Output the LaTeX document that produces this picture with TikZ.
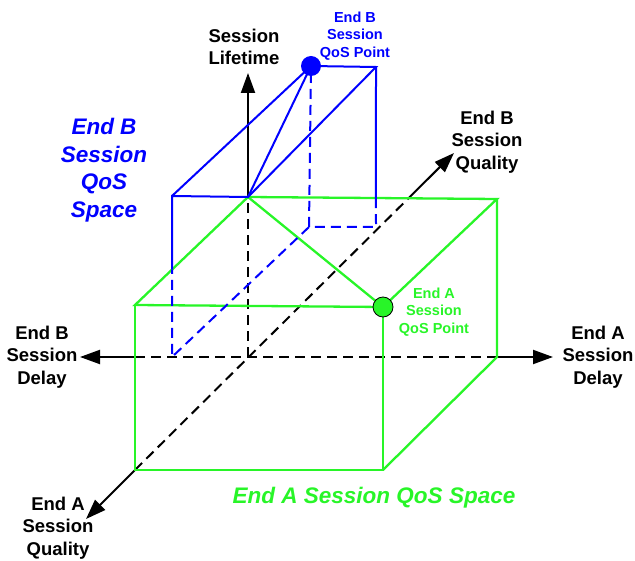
\documentclass[tikz,border=0pt]{standalone}
\usepackage{fontspec}
\setmainfont{Liberation Sans}
\usetikzlibrary{arrows.meta}
\definecolor{qosblue}{RGB}{0,0,255}
\definecolor{qosgreen}{RGB}{40,245,40}
\begin{document}
\begin{tikzpicture}[x=1pt,y=-1pt,line width=2pt,
  axis/.style={-{Triangle[length=20pt,width=14pt]}},
  hidden/.style={dash pattern=on 10pt off 6pt},
  lbl/.style={align=center,font=\bfseries\fontsize{18.5}{22.5}\selectfont},
  ptlbl/.style={align=center,font=\bfseries\fontsize{14.5}{17.5}\selectfont},
  spacelbl/.style={align=center,font=\bfseries\itshape\fontsize{22.5}{27.5}\selectfont}]
  \useasboundingbox (0,0) rectangle (635,561);
  \coordinate (O) at (248,357);
  \coordinate (lifeTip) at (248,73);
  \coordinate (delayBTip) at (80,357);
  \coordinate (delayATip) at (553,357);
  \coordinate (qualATip) at (86,519);
  \coordinate (qualBTip) at (454,153);
  \coordinate (gFTL) at (135,305);
  \coordinate (gFTR) at (383,307);
  \coordinate (gFBR) at (383,470);
  \coordinate (gFBL) at (135,470);
  \coordinate (gBTL) at (248,197);
  \coordinate (gBTR) at (497,199);
  \coordinate (gBBR) at (497,357);
  \coordinate (bTL) at (172,196);
  \coordinate (bP) at (311,66);
  \coordinate (bBR) at (376,67);
  \coordinate (bP0) at (309,227);
  \coordinate (bQ0) at (376,227);
  \coordinate (bL0) at (172,357);
  \coordinate (qX) at (intersection of gBTL--gBTR and gFBL--qualBTip);
  \coordinate (hX) at (intersection of gFTL--gFBL and O--delayBTip);
  \coordinate (bX1) at (intersection of gFTL--gBTL and bTL--bL0);
  \coordinate (bX2) at (intersection of gBTL--gBTR and bBR--bQ0);

  \draw[hidden] (O) -- (gBTL);
  \draw[axis] (gBTL) -- (lifeTip);
  \draw[hidden] (hX) -- (gBBR);
  \draw[axis] (hX) -- (delayBTip);
  \draw[axis] (gBBR) -- (delayATip);
  \draw[hidden] (gFBL) -- (qX);
  \draw[axis] (gFBL) -- (qualATip);
  \draw[axis] (qX) -- (qualBTip);

  \draw[qosgreen,line width=2.3pt] (gFTL) -- (gBTL) -- (gBTR) -- (gFTR) -- cycle;
  \draw[qosgreen,line width=2.3pt] (gBTL) -- (gFTR);
  \draw[qosgreen,line width=2.3pt] (gFTL) -- (gFBL) -- (gFBR) -- (gFTR);
  \draw[qosgreen,line width=2.3pt] (gFBR) -- (gBBR) -- (gBTR);

  \draw[qosblue] (bX1) -- (bTL) -- (gBTL) -- (bP) -- (bTL);
  \draw[qosblue] (gBTL) -- (bBR) -- (bP);
  \draw[qosblue] (bBR) -- (bX2);
  \draw[qosblue,hidden] (bX2) -- (bQ0) -- (bP0) -- (bP);
  \draw[qosblue,hidden] (bP0) -- (bL0) -- (bX1);

  \fill[qosblue] (bP) circle (10pt);
  \filldraw[fill=qosgreen,draw=black,line width=0.8pt] (gFTR) circle (10pt);

  \node[lbl] (lifeLbl) at (244,47) {Session\\Lifetime};
  \node[lbl] (qualBLbl) at (487,142) {End B\\Session\\Quality};
  \node[lbl] (delayBLbl) at (42,357) {End B\\Session\\Delay};
  \node[lbl] (delayALbl) at (598,357) {End A\\Session\\Delay};
  \node[lbl] (qualALbl) at (58,528) {End A\\Session\\Quality};
  \node[ptlbl,text=qosblue] (bPtLbl) at (355,36) {End B\\Session\\QoS Point};
  \node[ptlbl,text=qosgreen] (aPtLbl) at (434,312) {End A\\Session\\QoS Point};
  \node[spacelbl,text=qosblue] (bSpLbl) at (104,170) {End B\\Session\\QoS\\Space};
  \node[spacelbl,text=qosgreen] (aSpLbl) at (374,498) {End A Session QoS Space};
\end{tikzpicture}
\end{document}
